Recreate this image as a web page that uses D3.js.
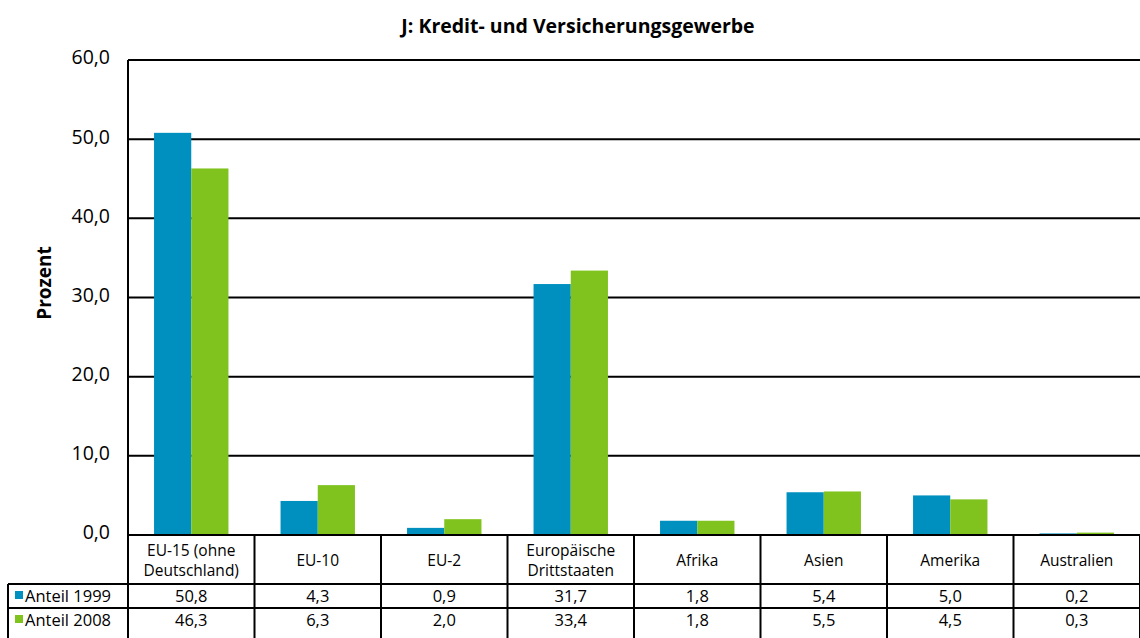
<!DOCTYPE html>
<html>
<head>
<meta charset="utf-8">
<script src="https://cdn.jsdelivr.net/npm/d3@7"></script>
<style>
  body { margin: 0; background: #fff; }
  svg { display: block; font-family: "Open Sans", "DejaVu Sans", sans-serif; }
</style>
</head>
<body>
<svg id="chart" width="1140" height="638"></svg>
<script>
// Daten
var categories = [["EU-15 (ohne", "Deutschland)"], ["EU-10"], ["EU-2"], ["Europäische", "Drittstaaten"], ["Afrika"], ["Asien"], ["Amerika"], ["Australien"]];
var seriesNames = ["Anteil 1999", "Anteil 2008"];
var anteil1999 = [50.8, 4.3, 0.9, 31.7, 1.8, 5.4, 5.0, 0.2];
var anteil2008 = [46.3, 6.3, 2.0, 33.4, 1.8, 5.5, 4.5, 0.3];
var yTicks = [0, 10, 20, 30, 40, 50, 60];
var colors = ["#0090bf", "#80c31f"];

var fmt = function(v) { return d3.format(".1f")(v).replace(".", ","); };

var margin = { top: 60, right: 0, bottom: 103, left: 128 };
var W = 1140, H = 638;
var width = W - margin.left - margin.right;
var height = H - margin.top - margin.bottom;

var svg = d3.select("#chart");

// Titel
svg.append("text")
    .attr("x", 578)
    .attr("y", 33)
    .attr("text-anchor", "middle")
    .style("font-size", "19.5px")
    .style("font-weight", "bold")
    .text("J: Kredit- und Versicherungsgewerbe");

svg.append("text")
    .attr("transform", "translate(51," + 283 + ") rotate(-90)")
    .attr("text-anchor", "middle")
    .style("font-size", "19px")
    .style("font-weight", "bold")
    .text("Prozent");

var chart = svg.append("g")
    .attr("transform", "translate(" + margin.left + "," + margin.top + ")");

var x = d3.scaleBand()
    .domain(d3.range(categories.length))
    .range([0, width]);

var x1 = d3.scaleBand()
    .domain([0, 1])
    .range([0, x.bandwidth()])
    .paddingOuter(0.7);

var y = d3.scaleLinear()
    .domain([0, 60])
    .range([height, 0]);

// Gitterlinien
chart.selectAll(".grid")
    .data(yTicks)
    .enter().append("line")
    .attr("x1", 0)
    .attr("x2", width)
    .attr("y1", function(d) { return y(d); })
    .attr("y2", function(d) { return y(d); })
    .attr("stroke", "#000")
    .attr("stroke-width", 2);

// y-Achse Beschriftung
chart.append("g")
    .call(d3.axisLeft(y).tickValues(yTicks).tickFormat(fmt).tickSize(0).tickPadding(18))
    .call(function(g) { g.select(".domain").remove(); })
    .selectAll("text")
    .style("font-size", "19.5px")
    .style("font-family", "'Open Sans', 'DejaVu Sans', sans-serif")
    .attr("fill", "#000")
    .attr("dy", "0.2em");

// Balken
var series = [anteil1999, anteil2008];
series.forEach(function(vals, s) {
    chart.selectAll(".bar" + s)
        .data(vals)
        .enter().append("rect")
        .attr("x", function(d, i) { return x(i) + x1(s); })
        .attr("y", function(d) { return y(d); })
        .attr("width", x1.bandwidth())
        .attr("height", function(d) { return y(0) - y(d); })
        .attr("fill", colors[s]);
});

// linke Achse
chart.append("line")
    .attr("x1", 0).attr("x2", 0)
    .attr("y1", 0).attr("y2", height)
    .attr("stroke", "#000").attr("stroke-width", 2);

// Datentabelle
var rowH = [49, 24, 30];
var tableTop = margin.top + height;
var table = svg.append("g");
var rowY = [tableTop, tableTop + rowH[0], tableTop + rowH[0] + rowH[1]];

// Linien der Tabelle
table.append("line")
    .attr("x1", margin.left).attr("x2", W)
    .attr("y1", tableTop).attr("y2", tableTop)
    .attr("stroke", "#000").attr("stroke-width", 2);
[rowY[1], rowY[2]].forEach(function(yy) {
    table.append("line")
        .attr("x1", 8).attr("x2", W)
        .attr("y1", yy).attr("y2", yy)
        .attr("stroke", "#000").attr("stroke-width", 2);
});
table.append("line")
    .attr("x1", 8).attr("x2", 8)
    .attr("y1", rowY[1]).attr("y2", H)
    .attr("stroke", "#000").attr("stroke-width", 2);
d3.range(categories.length + 1).forEach(function(i) {
    var xx = margin.left + (i < categories.length ? x(i) : width);
    table.append("line")
        .attr("x1", xx).attr("x2", xx)
        .attr("y1", tableTop).attr("y2", H)
        .attr("stroke", "#000").attr("stroke-width", 2);
});

// Kategorien (zweizeilige Texte als getrennte Zeilen)
categories.forEach(function(lines, i) {
    var cx = margin.left + x(i) + x.bandwidth() / 2;
    var startY = tableTop + rowH[0] / 2 - (lines.length - 1) * 10 + 6;
    lines.forEach(function(l, k) {
        table.append("text")
            .attr("x", cx)
            .attr("y", startY + k * 20)
            .attr("text-anchor", "middle")
            .style("font-size", "15.5px")
            .text(l);
    });
});

// Werte
series.forEach(function(vals, s) {
    var ry = rowY[s + 1];
    var rh = rowH[s + 1];
    var ty = ry + rh / 2 + 6 - (s ? 3 : 0);
    table.append("rect")
        .attr("x", 15).attr("y", ty - 11)
        .attr("width", 8).attr("height", 8)
        .attr("fill", colors[s]);
    table.append("text")
        .attr("x", 25)
        .attr("y", ty)
        .style("font-size", "16.5px")
        .text(seriesNames[s]);
    vals.forEach(function(v, i) {
        table.append("text")
            .attr("x", margin.left + x(i) + x.bandwidth() / 2)
            .attr("y", ty)
            .attr("text-anchor", "middle")
            .style("font-size", "16.5px")
            .text(fmt(v));
    });
});
</script>
</body>
</html>
